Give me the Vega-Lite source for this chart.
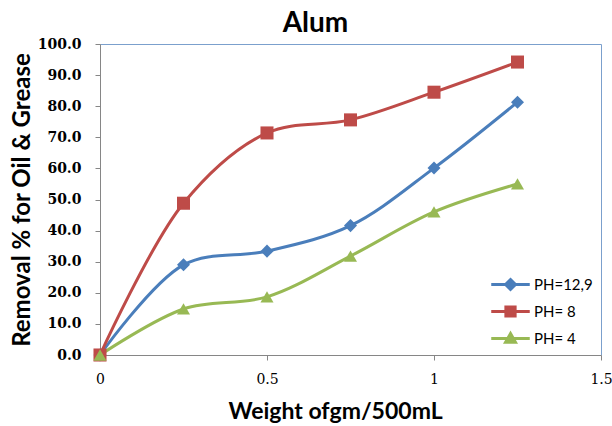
{
  "$schema": "https://vega.github.io/schema/vega-lite/v6.json",
  "width": 501,
  "height": 311,
  "autosize": {"type": "none"},
  "padding": {"left": 100, "top": 44, "right": 11, "bottom": 71},
  "background": "white",
  "config": {
    "view": {"stroke": "#7BA0CD", "strokeWidth": 1},
    "font": "Lato"
  },
  "title": {
    "text": "Alum",
    "fontSize": 28,
    "fontWeight": "bold",
    "font": "Lato",
    "color": "#000000",
    "anchor": "middle",
    "baseline": "alphabetic",
    "offset": 14,
    "dx": -35,
    "dy": 37
  },
  "data": {
    "values": [
      {"w": 0, "r": 0, "series": "PH=12,9", "marker": "diamond"},
      {"w": 0.25, "r": 29.0, "series": "PH=12,9", "marker": "diamond"},
      {"w": 0.5, "r": 33.4, "series": "PH=12,9", "marker": "diamond"},
      {"w": 0.75, "r": 41.6, "series": "PH=12,9", "marker": "diamond"},
      {"w": 1, "r": 60.1, "series": "PH=12,9", "marker": "diamond"},
      {"w": 1.25, "r": 81.3, "series": "PH=12,9", "marker": "diamond"},
      {"w": 0, "r": 0, "series": "PH= 8", "marker": "square"},
      {"w": 0.25, "r": 48.8, "series": "PH= 8", "marker": "square"},
      {"w": 0.5, "r": 71.4, "series": "PH= 8", "marker": "square"},
      {"w": 0.75, "r": 75.6, "series": "PH= 8", "marker": "square"},
      {"w": 1, "r": 84.5, "series": "PH= 8", "marker": "square"},
      {"w": 1.25, "r": 94.2, "series": "PH= 8", "marker": "square"},
      {"w": 0, "r": 0, "series": "PH= 4", "marker": "triangle"},
      {"w": 0.25, "r": 14.8, "series": "PH= 4", "marker": "triangle"},
      {"w": 0.5, "r": 18.7, "series": "PH= 4", "marker": "triangle"},
      {"w": 0.75, "r": 31.8, "series": "PH= 4", "marker": "triangle"},
      {"w": 1, "r": 46.0, "series": "PH= 4", "marker": "triangle"},
      {"w": 1.25, "r": 55.0, "series": "PH= 4", "marker": "triangle"}
    ]
  },
  "encoding": {
    "x": {
      "field": "w",
      "type": "quantitative",
      "scale": {"domain": [0, 1.5], "nice": false},
      "axis": {
        "values": [0, 0.5, 1, 1.5],
        "format": "~g",
        "grid": false,
        "domainColor": "#868686",
        "tickColor": "#868686",
        "tickSize": 5,
        "labelPadding": 12,
        "labelFont": "DejaVu Serif",
        "labelFontSize": 14,
        "labelColor": "#000000",
        "labelFlush": false,
        "title": "Weight ofgm/500mL",
        "titleFont": "Lato",
        "titleFontSize": 23,
        "titleFontWeight": "bold",
        "titleColor": "#000000",
        "titleX": 235,
        "titleY": 63,
        "titleBaseline": "alphabetic",
        "titleAlign": "center"
      }
    },
    "y": {
      "field": "r",
      "type": "quantitative",
      "scale": {"domain": [0, 100], "nice": false},
      "axis": {
        "values": [0, 10, 20, 30, 40, 50, 60, 70, 80, 90, 100],
        "format": ".1f",
        "grid": false,
        "domainColor": "#868686",
        "tickColor": "#868686",
        "tickSize": 5,
        "labelPadding": 14,
        "labelFont": "DejaVu Serif",
        "labelFontSize": 14,
        "labelFontWeight": "bold",
        "labelColor": "#000000",
        "labelFlush": false,
        "title": "Removal % for Oil & Grease",
        "titleFont": "Lato",
        "titleFontSize": 24,
        "titleFontWeight": "bold",
        "titleColor": "#000000",
        "titleAngle": -90,
        "titleX": -78,
        "titleY": 155.5,
        "titleAlign": "center",
        "titleBaseline": "middle"
      }
    }
  },
  "layer": [
    {
      "mark": {"type": "line", "interpolate": "catmull-rom", "strokeWidth": 3},
      "encoding": {
        "color": {
          "field": "series",
          "type": "nominal",
          "scale": {
            "domain": ["PH=12,9", "PH= 8", "PH= 4"],
            "range": ["#4A7EBB", "#BE4B48", "#98B954"]
          },
          "legend": {
            "title": null,
            "orient": "none",
            "legendX": 398,
            "legendY": 228,
            "padding": 0,
            "symbolSize": 484,
            "symbolStrokeWidth": 3,
            "rowPadding": 3,
            "labelOffset": 11,
            "labelFont": "Lato",
            "labelFontSize": 15,
            "labelColor": "#000000",
            "encode": {
              "symbols": {
                "update": {
                  "shape": {"signal": "datum.value === 'PH=12,9' ? 'M-1.75,0H1.75M0,-0.45L0.45,0L0,0.45L-0.45,0Z' : datum.value === 'PH= 8' ? 'M-1.75,0H1.75M-0.42,-0.42H0.42V0.42H-0.42Z' : 'M-1.75,0H1.75M0,-0.45L0.45,0.35L-0.45,0.35Z'"},
                  "fill": {"signal": "datum.value === 'PH=12,9' ? '#4A7EBB' : datum.value === 'PH= 8' ? '#BE4B48' : '#98B954'"},
                  "stroke": {"signal": "datum.value === 'PH=12,9' ? '#4A7EBB' : datum.value === 'PH= 8' ? '#BE4B48' : '#98B954'"},
                  "opacity": {"value": 1}
                }
              }
            }
          }
        }
      }
    },
    {
      "mark": {"type": "point", "filled": true, "opacity": 1, "size": 170},
      "encoding": {
        "fill": {
          "field": "marker",
          "type": "nominal",
          "scale": {
            "domain": ["diamond", "square", "triangle"],
            "range": ["#4A7EBB", "#BE4B48", "#98B954"]
          },
          "legend": null
        },
        "shape": {
          "field": "marker",
          "type": "nominal",
          "scale": {
            "domain": ["diamond", "square", "triangle"],
            "range": ["diamond", "square", "triangle-up"]
          },
          "legend": null
        }
      }
    }
  ]
}
